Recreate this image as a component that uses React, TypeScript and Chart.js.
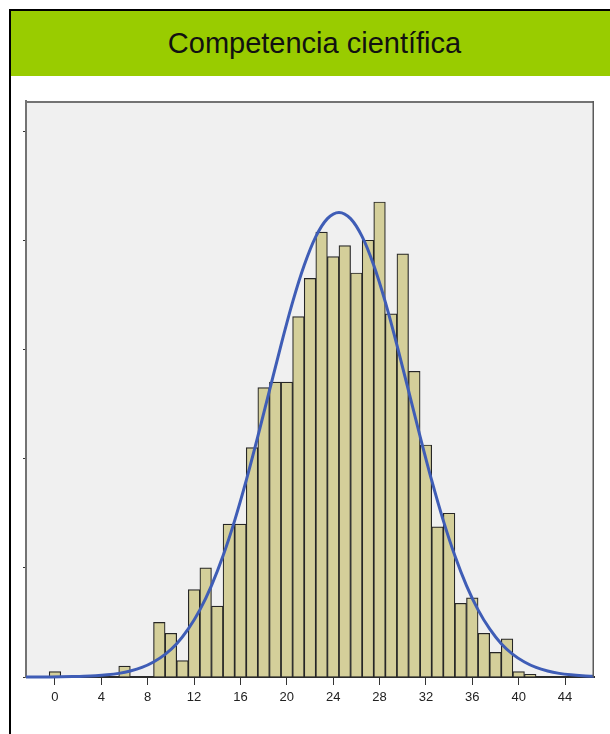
import React, { useEffect, useRef } from "react";
import { Chart, registerables } from "chart.js";

Chart.register(...registerables);

const titleText = "Competencia científica";

const xTickLabels = [0, 4, 8, 12, 16, 20, 24, 28, 32, 36, 40, 44];
const yTickValues = [0, 40, 80, 120, 160, 200];

const binCenters = [0, 6, 9, 10, 11, 12, 13, 14, 15, 16, 17, 18, 19, 20, 21, 22, 23, 24, 25, 26, 27, 28, 29, 30, 31, 32, 33, 34, 35, 36, 37, 38, 39, 40, 41];
const binCounts = [2, 4, 20, 16, 6, 32, 40, 26, 56, 56, 84, 106, 108, 108, 132, 146, 163, 154, 158, 148, 160, 174, 133, 155, 112, 85, 55, 60, 27, 29, 16, 9, 14, 2, 1];

const curveX = [
  -2.5, -1.5, -0.5, 0.5, 1.5, 2.5, 3.5, 4.5, 5.5, 6.5,
  7.5, 8.5, 9.5, 10.5, 11.5, 12.5, 13.5, 14.5, 15.5, 16.5,
  17.5, 18.5, 19.5, 20.5, 21.5, 22.5, 23.5, 24.5, 25.5, 26.5,
  27.5, 28.5, 29.5, 30.5, 31.5, 32.5, 33.5, 34.5, 35.5, 36.5,
  37.5, 38.5, 39.5, 40.5, 41.5, 42.5, 43.5, 44.5, 45.5, 46.5,
];
const curveY = [
  0.01, 0.02, 0.04, 0.07, 0.14, 0.25, 0.45, 0.79, 1.33, 2.2,
  3.5, 5.5, 8.3, 12.2, 17.6, 24.6, 33.5, 44.4, 57.3, 72.0,
  88.1, 104.9, 121.6, 137.3, 150.8, 161.3, 167.9, 170.2, 167.9, 161.3,
  150.8, 137.3, 121.6, 104.9, 88.1, 72.0, 57.3, 44.4, 33.5, 24.6,
  17.6, 12.2, 8.3, 5.5, 3.5, 2.2, 1.33, 0.79, 0.45, 0.25,
];

const CANVAS_W = 599;
const CANVAS_H = 658;

const framePlugin = {
  id: "plotFrame",
  beforeDraw(chart: any) {
    const { ctx, chartArea } = chart;
    const { left, top, right, bottom } = chartArea;
    ctx.save();
    ctx.fillStyle = "#f0f0f0";
    ctx.fillRect(left, top, right - left, bottom - top);
    ctx.restore();
  },
  afterDatasetsDraw(chart: any) {
    const { ctx, chartArea } = chart;
    const { left, top, right, bottom } = chartArea;
    ctx.save();
    ctx.strokeStyle = "#737373";
    ctx.lineWidth = 2;
    ctx.beginPath();
    ctx.moveTo(left - 1, top + 1);
    ctx.lineTo(right, top + 1);
    ctx.stroke();
    ctx.strokeStyle = "#5a5a5a";
    ctx.lineWidth = 1.5;
    ctx.beginPath();
    ctx.moveTo(right - 0.75, top);
    ctx.lineTo(right - 0.75, bottom);
    ctx.stroke();
    ctx.restore();
  },
};

function HistogramChart() {
  const canvasRef = useRef<HTMLCanvasElement | null>(null);

  useEffect(() => {
    if (!canvasRef.current) return;
    const barData = binCenters.map((x, i) => ({ x, y: binCounts[i] }));
    const lineData = curveX.map((x, i) => ({ x, y: curveY[i] }));

    const chart = new Chart(canvasRef.current, {
      type: "bar",
      data: {
        datasets: [
          {
            type: "line",
            data: lineData,
            borderColor: "#3f5db6",
            borderWidth: 3,
            pointRadius: 0,
            fill: false,
            cubicInterpolationMode: "monotone",
            clip: false,
            order: 0,
          } as any,
          {
            type: "bar",
            data: barData,
            backgroundColor: "#d4cf9a",
            borderColor: "#262626",
            borderWidth: 1.2,
            barPercentage: 1,
            categoryPercentage: 1,
            order: 1,
          } as any,
        ],
      },
      options: {
        responsive: false,
        animation: false,
        devicePixelRatio: 1,
        layout: { padding: { left: 0, right: 16, top: 25, bottom: 0 } },
        plugins: {
          legend: { display: false },
          tooltip: { enabled: false },
          title: { display: false },
        },
        scales: {
          x: {
            type: "linear",
            min: -2.5,
            max: 46.5,
            offset: false,
            afterBuildTicks: (scale: any) => {
              scale.ticks = xTickLabels.map((v) => ({ value: v }));
            },
            afterFit: (scale: any) => {
              scale.height = 57;
            },
            grid: {
              display: true,
              offset: false,
              drawOnChartArea: false,
              drawTicks: true,
              tickLength: 8,
              color: "#333333",
              lineWidth: 1,
            },
            border: { display: true, color: "#2b2b2b", width: 2 },
            ticks: {
              padding: 5,
              color: "#222222",
              font: { family: "'Liberation Sans', Arial, sans-serif", size: 13 },
              callback: (v: any) => String(v),
              maxRotation: 0,
              autoSkip: false,
            },
          },
          y: {
            type: "linear",
            min: 0,
            max: 211,
            afterBuildTicks: (scale: any) => {
              scale.ticks = yTickValues.map((v) => ({ value: v }));
            },
            afterFit: (scale: any) => {
              scale.width = 15;
            },
            grid: {
              display: true,
              drawOnChartArea: false,
              drawTicks: true,
              tickLength: 3,
              color: "#333333",
              lineWidth: 1,
            },
            border: { display: true, color: "#737373", width: 2 },
            ticks: { display: false },
          },
        },
      },
      plugins: [framePlugin],
    });

    return () => chart.destroy();
  }, []);

  return (
    <canvas
      ref={canvasRef}
      width={CANVAS_W}
      height={CANVAS_H}
      style={{ position: "absolute", left: 11, top: 76, width: CANVAS_W, height: CANVAS_H }}
    />
  );
}

export default function App() {
  return (
    <div
      style={{
        position: "fixed",
        left: 0,
        top: 0,
        width: 610,
        height: 734,
        background: "#ffffff",
        overflow: "hidden",
      }}
    >
      <div
        style={{
          position: "absolute",
          left: 9,
          top: 9,
          width: 610,
          height: 740,
          borderLeft: "2px solid #000",
          borderTop: "2px solid #000",
          boxSizing: "border-box",
        }}
      />
      <div
        style={{
          position: "absolute",
          left: 11,
          top: 11,
          width: 607,
          height: 65,
          background: "#99cc00",
          display: "flex",
          alignItems: "center",
          justifyContent: "center",
          fontFamily: "'Liberation Sans', Arial, sans-serif",
          fontSize: 29,
          color: "#111111",
        }}
      >
        {titleText}
      </div>
      <HistogramChart />
    </div>
  );
}
